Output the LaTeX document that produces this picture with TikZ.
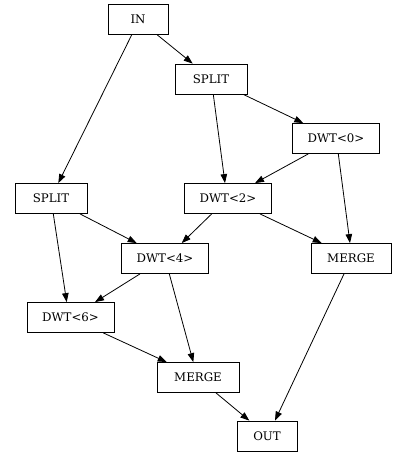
\documentclass[tikz,border=0pt]{standalone}
\usepackage{fontspec}
\setmainfont{DejaVu Serif}
\usetikzlibrary{arrows.meta}
\tikzset{
  box/.style={draw, rectangle, line width=0.8pt, minimum height=30pt, inner sep=0pt, font=\fontsize{11.8}{13}\selectfont},
  edge/.style={line width=0.8pt, -{Triangle[length=9pt,width=6.5pt]}}
}
\begin{document}
\begin{tikzpicture}[x=1pt,y=-1pt]
\useasboundingbox (0,0) rectangle (393,456);
\node[box, minimum width=60pt] (in) at (138,19.5) {IN};
\node[box, minimum width=72pt] (splitT) at (211,79) {SPLIT};
\node[box, minimum width=87pt] (dwt0) at (336,138.5) {DWT<0>};
\node[box, minimum width=72pt] (splitL) at (51,198.5) {SPLIT};
\node[box, minimum width=87pt] (dwt2) at (228,198.5) {DWT<2>};
\node[box, minimum width=87pt] (dwt4) at (165,258.5) {DWT<4>};
\node[box, minimum width=80pt] (mergeR) at (351,258.5) {MERGE};
\node[box, minimum width=87pt] (dwt6) at (70.5,317.5) {DWT<6>};
\node[box, minimum width=82pt] (mergeB) at (198,377.5) {MERGE};
\node[box, minimum width=60pt] (out) at (267,436) {OUT};

\draw[edge] ([xshift=19.3pt]in.south) -- ([xshift=-18.3pt]splitT.north);
\draw[edge] ([xshift=-6.3pt]in.south) -- ([xshift=7.3pt]splitL.north);
\draw[edge] ([xshift=32.3pt]splitT.south) -- ([xshift=-32.7pt]dwt0.north);
\draw[edge] ([xshift=2.3pt]splitT.south) -- ([xshift=-3pt]dwt2.north);
\draw[edge] ([xshift=-27.7pt]dwt0.south) -- ([xshift=27pt]dwt2.north);
\draw[edge] ([xshift=2.3pt]dwt0.south) -- ([xshift=-1pt]mergeR.north);
\draw[edge] ([xshift=-16.3pt]dwt2.south) -- ([xshift=16.7pt]dwt4.north);
\draw[edge] ([xshift=32pt]dwt2.south) -- ([xshift=-29.3pt]mergeR.north);
\draw[edge] ([xshift=29pt]splitL.south) -- ([xshift=-28.3pt]dwt4.north);
\draw[edge] ([xshift=2.3pt]splitL.south) -- ([xshift=-3.8pt]dwt6.north);
\draw[edge] ([xshift=-25pt]dwt4.south) -- ([xshift=24.5pt]dwt6.north);
\draw[edge] ([xshift=4.3pt]dwt4.south) -- ([xshift=-4.7pt]mergeB.north);
\draw[edge] ([xshift=32.8pt]dwt6.south) -- ([xshift=-31.3pt]mergeB.north);
\draw[edge] ([xshift=18pt]mergeB.south) -- ([xshift=-17.7pt]out.north);
\draw[edge] ([xshift=-7pt]mergeR.south) -- ([xshift=8pt]out.north);
\end{tikzpicture}
\end{document}
